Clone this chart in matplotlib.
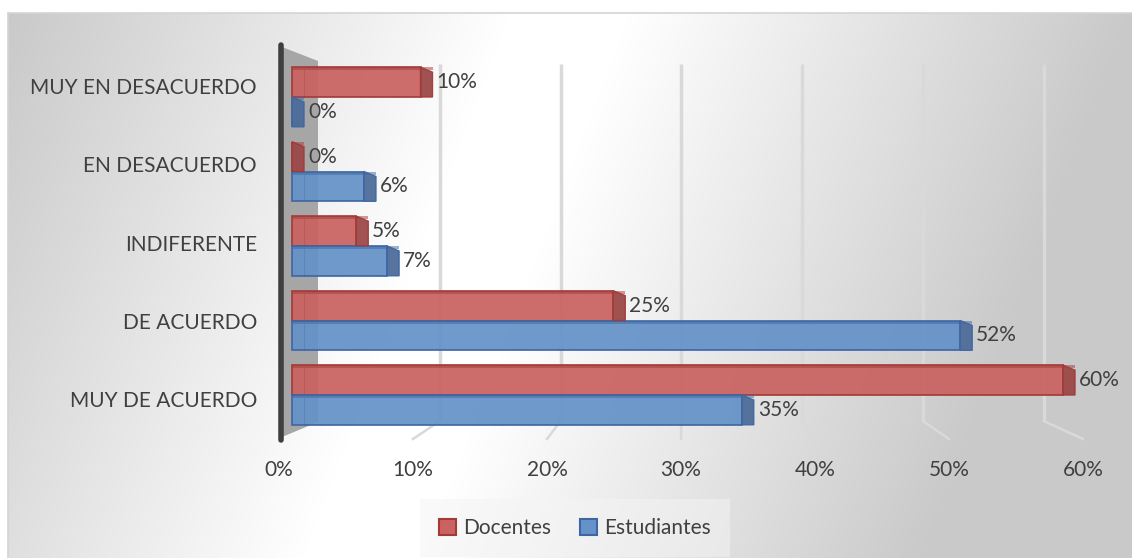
import numpy as np
import matplotlib
matplotlib.use("Agg")
import matplotlib.pyplot as plt
from matplotlib.patches import Polygon, Patch

# ---------------- data ----------------
categories = ["MUY EN DESACUERDO", "EN DESACUERDO", "INDIFERENTE", "DE ACUERDO", "MUY DE ACUERDO"]
docentes = [10, 0, 5, 25, 60]
estudiantes = [0, 5.6, 7.4, 52, 35]
series_names = ["Docentes", "Estudiantes"]
x_ticks = [0, 10, 20, 30, 40, 50, 60]

# ---------------- style ----------------
W, H = 1132, 558
TXT = "#404040"
FONT = "Lato"
FS = 15
RED_FACE, RED_EDGE, RED_CAP = "#C96261", "#A33A38", "#9A4645"
BLUE_FACE, BLUE_EDGE, BLUE_CAP = "#6592C8", "#3E66A3", "#4A6A98"

fig = plt.figure(figsize=(W / 100, H / 100), dpi=100)
fig.patch.set_facecolor("white")

def px_rect(x0, y0, x1, y1):
    """figure-fraction rect from pixel box (y from top)"""
    return [x0 / W, 1 - y1 / H, (x1 - x0) / W, (y1 - y0) / H]

# ---------------- background (pixel coords) ----------------
bg = fig.add_axes([0, 0, 1, 1], zorder=0)
bg.set_xlim(0, W)
bg.set_ylim(H, 0)
bg.axis("off")
X, Y = np.meshgrid(np.arange(W) + 0.5, np.arange(H) + 0.5)
xc = 570 - 0.38 * (Y - 13)
d = np.abs(X - xc)
c = np.clip((d - 60) / 500, 0, 1)
val = 1 - c * (1 - 0.79)
img = np.dstack([val, val, val])
img[Y < 13] = 1.0
img[X < 8] = 1.0
bg.imshow(img, extent=[0, W, H, 0], interpolation="bilinear", aspect="auto")
bg.plot([8, W], [13, 13], color="#d4d4d4", lw=1.2)
bg.plot([8, 8], [13, H], color="#d4d4d4", lw=1.2)

# back-wall gridlines and floor lines derived from tick values
def back_x(v):
    return 319 + 12.08 * v
def front_x(v):
    return 279 + 13.4 * v
for t in x_ticks[1:]:
    bg.plot([back_x(t), back_x(t)], [64, 421], color="#D9D9D9", lw=2.5, solid_capstyle="butt")
    bg.plot([back_x(t), front_x(t)], [421, 439], color="#D9D9D9", lw=1.8)

# left side wall
bg.add_patch(Polygon([[282, 47], [318, 61], [318, 422], [282, 437]], closed=True,
                     facecolor="#A6A6A6", edgecolor="none"))
bg.plot([281, 281], [45, 440], color="#3F3F3F", lw=4, solid_capstyle="round")

# ---------------- bars ----------------
PXX = 12.85   # px per percent
PXY = 74.5    # px per category
ax_l, ax_r, ax_t, ax_b = 270, 1110, 40, 445
ax = fig.add_axes(px_rect(ax_l, ax_t, ax_r, ax_b), zorder=1)
ax.patch.set_alpha(0)
ax.set_xlim(-(292 - ax_l) / PXX, (ax_r - 292) / PXX)
ax.set_ylim(-(ax_b - 395) / PXY, 4 + (97 - ax_t) / PXY)
ax.axis("off")

ypos = np.arange(len(categories))[::-1]  # top category at 4
bh = 0.4
dx = 12 / PXX
dy = 5 / PXY

def draw_series(vals, offset, face, edge, cap):
    ax.barh(ypos + offset, vals, height=bh, color=face, edgecolor=edge,
            linewidth=1.3, alpha=0.93, zorder=2)
    for y, v in zip(ypos + offset, vals):
        y0, y1 = y - bh / 2, y + bh / 2
        # top strip
        ax.fill_between([0, v + dx], [y1 - 3 / PXY] * 2, [y1] * 2, color=edge, alpha=0.5,
                        lw=0, zorder=3)
        # end cap
        ax.add_patch(Polygon([[v, y0], [v, y1], [v + dx, y1 - dy], [v + dx, y0]], closed=True,
                             facecolor=cap, edgecolor=edge, lw=1.0, alpha=0.93, zorder=3))
        if v > dx:
            ax.plot([dx, dx], [y0, y1 - 3 / PXY], color=edge, lw=0.8, alpha=0.3, zorder=3)
        ax.text(v + dx + 4 / PXX, y, f"{v:.0f}%", ha="left", va="center",
                fontsize=FS, color=TXT, family=FONT, zorder=4)

draw_series(docentes, 0.2, RED_FACE, RED_EDGE, RED_CAP)
draw_series(estudiantes, -0.2, BLUE_FACE, BLUE_EDGE, BLUE_CAP)

# ---------------- front-plane labels ----------------
fa_l, fa_r, fa_t, fa_b = 279, 279 + 13.4 * 60, 60, 480
fa = fig.add_axes(px_rect(fa_l, fa_t, fa_r, fa_b), zorder=2)
fa.patch.set_alpha(0)
fa.axis("off")
PYF = 78.25
fa.set_xlim(0, 60)
fa.set_ylim(-(fa_b - 401) / PYF, 4 + (88 - fa_t) / PYF)
for t in x_ticks:
    fa.text(t, -(470 - 401) / PYF, f"{t}%", ha="center", va="center", fontsize=FS,
            color=TXT, family=FONT, clip_on=False)
for y, lab in zip(ypos, categories):
    fa.text((257 - 279) / 13.4, y, lab, ha="right", va="center", fontsize=FS,
            color=TXT, family=FONT, clip_on=False)

# ---------------- legend ----------------
handles = [Patch(facecolor=RED_FACE, edgecolor=RED_EDGE, lw=1.5, label=series_names[0]),
           Patch(facecolor=BLUE_FACE, edgecolor=BLUE_EDGE, lw=1.5, label=series_names[1])]
leg = fig.legend(handles=handles, loc="center", bbox_to_anchor=(575 / W, 1 - 528 / H),
                 ncol=2, frameon=True, handlelength=0.8, handleheight=0.8,
                 handletextpad=0.35, columnspacing=1.4, borderpad=0.6,
                 prop={"family": FONT, "size": FS})
leg.get_frame().set_facecolor("#f4f4f4")
leg.get_frame().set_alpha(0.5)
leg.get_frame().set_edgecolor("none")
leg.get_frame().set_boxstyle("square")
for t in leg.get_texts():
    t.set_color(TXT)

fig.savefig("out.png", dpi=100)
